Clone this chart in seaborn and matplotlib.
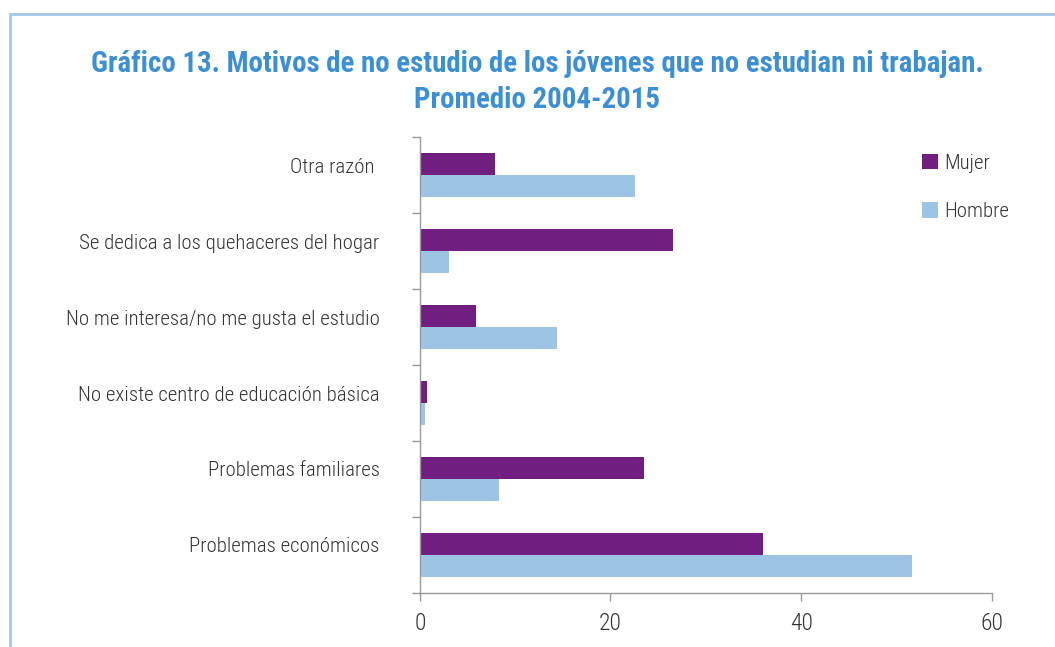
import seaborn as sns
import matplotlib.pyplot as plt
import matplotlib.transforms as mtrans
import pandas as pd
from matplotlib.patches import Rectangle

categories = ["Otra razón ", "Se dedica a los quehaceres del hogar",
              "No me interesa/no me gusta el estudio",
              "No existe centro de educación básica",
              "Problemas familiares", "Problemas económicos"]
mujer = [7.9, 26.6, 5.9, 0.7, 23.5, 36.0]
hombre = [22.6, 3.1, 14.4, 0.5, 8.3, 51.6]
x_ticks = [0, 20, 40, 60]

df = pd.DataFrame({
    "motivo": categories * 2,
    "valor": mujer + hombre,
    "sexo": ["Mujer"] * len(categories) + ["Hombre"] * len(categories),
})

sns.set_theme(style="white")
plt.rcParams["font.family"] = ["Roboto Condensed", "Roboto", "DejaVu Sans"]

fig = plt.figure(figsize=(10.55, 6.47), dpi=100)
ax = fig.add_axes([0.398, 0.0835, 0.542, 0.7047])

pal = {"Mujer": "#701f81", "Hombre": "#9dc3e5"}
sns.barplot(data=df, y="motivo", x="valor", hue="sexo", orient="h",
            palette=pal, width=0.58, saturation=1, linewidth=0, ax=ax, legend=True)

ax.set_xlim(0, 60)
ax.set_ylim(5.5, -0.5)
ax.set_xticks(x_ticks)
ax.set_xlabel("")
ax.set_ylabel("")

# category labels centered, tick marks on the boundaries
ax.tick_params(axis="y", which="major", length=0, pad=29, labelsize=15, labelcolor="#333333")
ax.set_yticks([i - 0.5 for i in range(len(categories) + 1)], minor=True)
ax.tick_params(axis="y", which="minor", left=True, length=6, width=1, color="#999999")
ax.tick_params(axis="x", bottom=True, length=6, width=1, color="#999999",
               pad=8, labelsize=17, labelcolor="#333333")
for t in ax.get_yticklabels() + ax.get_xticklabels():
    t.set_fontweight("light")

# labels sit a bit above the middle of each group, as in the original
shift = mtrans.ScaledTranslation(0, 0.1, fig.dpi_scale_trans)
for t in ax.get_yticklabels():
    t.set_transform(t.get_transform() + shift)

for s in ["top", "right"]:
    ax.spines[s].set_visible(False)
for s in ["left", "bottom"]:
    ax.spines[s].set_color("#999999")
    ax.spines[s].set_linewidth(1)

leg = ax.legend(loc="upper left", bbox_to_anchor=(0.845, 1.005), frameon=False,
                handlelength=0.8, handleheight=0.8, handletextpad=0.3,
                labelspacing=1.4, fontsize=15)
for t in leg.get_texts():
    t.set_color("#333333")
    t.set_fontweight("light")

fig.text(0.509, 0.873, "Gráfico 13. Motivos de no estudio de los jóvenes que no estudian ni trabajan.\nPromedio 2004-2015",
         ha="center", va="center", fontsize=20.8, fontweight="bold", color="#3e8fd1",
         linespacing=1.36)

# light blue frame around the figure
fig.patches.append(Rectangle((10 / 1055, -0.05), 1.1, 1 - 14 / 647 + 0.05,
                             transform=fig.transFigure, fill=False,
                             edgecolor="#a6c8e8", linewidth=2))

fig.savefig("out.png", dpi=100)
